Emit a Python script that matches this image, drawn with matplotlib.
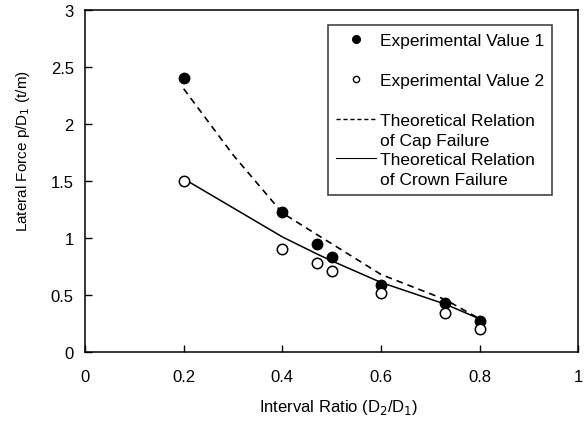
import matplotlib.pyplot as plt
from matplotlib.lines import Line2D

# Measured points
x_exp = [0.2, 0.4, 0.47, 0.5, 0.6, 0.73, 0.8]
y_exp1 = [2.40, 1.23, 0.95, 0.83, 0.59, 0.43, 0.27]
y_exp2 = [1.50, 0.90, 0.78, 0.71, 0.52, 0.34, 0.20]

# Theoretical curves
x_cap = [0.2, 0.3, 0.4, 0.47, 0.5, 0.6, 0.73, 0.8]
y_cap = [2.31, 1.73, 1.22, 1.03, 0.95, 0.68, 0.46, 0.29]
x_crown = [0.2, 0.4, 0.47, 0.5, 0.6, 0.73, 0.8]
y_crown = [1.52, 1.01, 0.86, 0.80, 0.61, 0.42, 0.29]

x_ticks = [0, 0.2, 0.4, 0.6, 0.8, 1]
x_ticklabels = ["0", "0.2", "0.4", "0.6", "0.8", "1"]
y_ticks = [0, 0.5, 1, 1.5, 2, 2.5, 3]
y_ticklabels = ["0", "0.5", "1", "1.5", "2", "2.5", "3"]

plt.rcParams["font.family"] = ["Liberation Sans", "DejaVu Sans"]
plt.rcParams["font.size"] = 11

fig = plt.figure(figsize=(5.84, 4.35), dpi=100)
ax = fig.add_axes([0.1455, 0.1885, 0.845, 0.786])

ax.plot(x_cap, y_cap, "--", color="black", linewidth=1.2, dashes=(4, 3))
ax.plot(x_crown, y_crown, "-", color="black", linewidth=1.1)
ax.plot(x_exp, y_exp1, "o", color="black", markersize=7.5, linestyle="none")
ax.plot(x_exp, y_exp2, "o", markerfacecolor="white", markeredgecolor="black",
        markeredgewidth=1.1, markersize=7.5, linestyle="none")

ax.set_xlim(0, 1)
ax.set_ylim(0, 3)
ax.set_xticks(x_ticks)
ax.set_xticklabels(x_ticklabels)
ax.set_yticks(y_ticks)
ax.set_yticklabels(y_ticklabels)
ax.tick_params(direction="in", length=5, width=1, labelsize=12)
ax.tick_params(axis="x", pad=12)
ax.tick_params(axis="y", pad=8)
for s in ax.spines.values():
    s.set_linewidth(1.1)

ax.set_xlabel("Interval Ratio (D$_2$/D$_1$)", fontsize=12)
ax.xaxis.set_label_coords(0.515, -0.133)
ax.set_ylabel("Lateral Force p/D$_1$ (t/m)", fontsize=11)
ax.yaxis.set_label_coords(-0.108, 0.59)

# legend: one row per text line, blank rows give the gaps
blank = Line2D([], [], linestyle="none")
handles = [
    Line2D([], [], marker="o", color="black", linestyle="none", markersize=5.5),
    blank,
    Line2D([], [], marker="o", markerfacecolor="white", markeredgecolor="black",
           linestyle="none", markersize=4.5),
    blank,
    Line2D([], [], color="black", linestyle="--", linewidth=1.0, dashes=(3, 2)),
    blank,
    Line2D([], [], color="black", linestyle="-", linewidth=0.8),
    blank,
]
labels = [
    "Experimental Value 1", " ",
    "Experimental Value 2", " ",
    "Theoretical Relation", "of Cap Failure",
    "Theoretical Relation", "of Crown Failure",
]
leg = ax.legend(handles, labels, loc="upper left",
                bbox_to_anchor=(0.493, 0.955), frameon=True, fancybox=False,
                edgecolor="black", handlelength=2.3, handletextpad=0.25,
                labelspacing=0.27, borderpad=0.45, borderaxespad=0,
                fontsize=12.5)
leg.get_frame().set_linewidth(1.1)

fig.savefig("out.png", dpi=100)
